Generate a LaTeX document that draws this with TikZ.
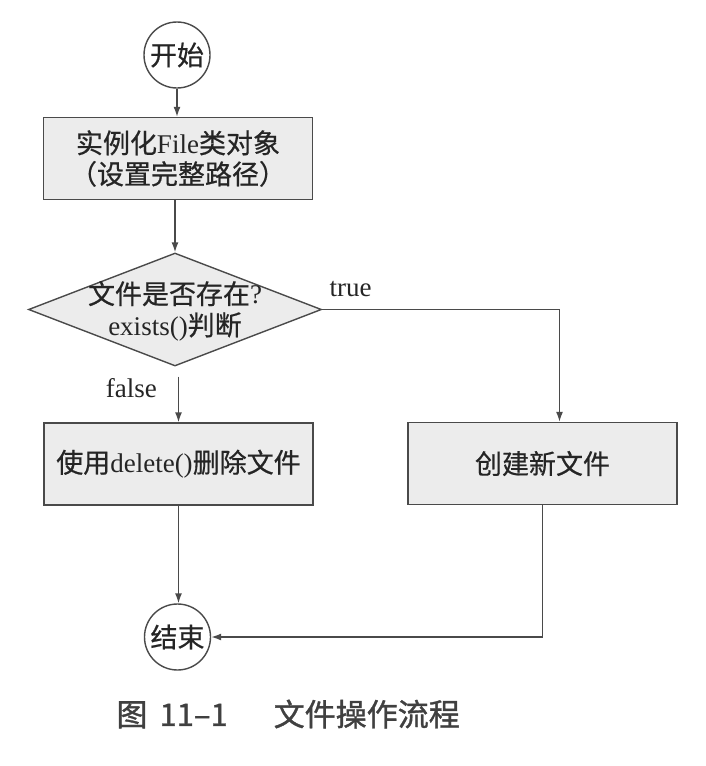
\documentclass[tikz,border=0pt]{standalone}
\usepackage{fontspec}
\setmainfont{Liberation Serif}
\newfontfamily\cjk[FakeBold=0.6]{Noto Sans CJK SC}
\newfontfamily\capfont[FakeBold=1.2]{Noto Sans CJK SC}
\usetikzlibrary{shapes.geometric,arrows.meta}
\definecolor{linec}{HTML}{4A4A4A}
\definecolor{boxfill}{HTML}{ECECEC}
\definecolor{txt}{HTML}{252525}
\definecolor{capc}{HTML}{404040}
\begin{document}
\begin{tikzpicture}[x=1pt,y=-1pt,
  every node/.style={text=txt, font=\fontsize{27}{31}\selectfont},
  term/.style={circle, draw=linec, line width=1.4pt, minimum size=66pt, inner sep=0pt, fill=white},
  procbox/.style={rectangle, draw=linec, line width=1.4pt, fill=boxfill, minimum width=269pt, minimum height=82pt, inner sep=0pt, align=center},
  decision/.style={diamond, draw=linec, line width=1.4pt, fill=boxfill, minimum width=293pt, minimum height=113pt, inner sep=0pt, font=\fontsize{27}{28}\selectfont},
  flow/.style={draw=linec, line width=1.4pt, -{Latex[length=10pt,width=7pt]}},
  branch/.style={inner sep=0pt, font=\fontsize{27}{31}\selectfont}
]
\useasboundingbox (0,0) rectangle (705,766);

\node[term] (start) at (177,55) {\cjk 开始};
\node[procbox] (box1) at (178,158.5) {{\cjk 实例化}File{\cjk 类对象}\\{\cjk （设置完整路径）}};
\node[decision] (dec) at (175,309.5) {\smash{\raisebox{-9pt}{\makebox[0pt]{\begin{tabular}{@{}c@{}}{\cjk 文件是否存在}?\\exists(){\cjk 判断}\end{tabular}}}}};
\node[procbox] (box2) at (178.5,464) {{\cjk 使用}delete(){\cjk 删除文件}};
\node[procbox] (box3) at (542.5,463.5) {\cjk 创建新文件};
\node[term] (end) at (177.5,637) {\cjk 结束};

\node[anchor=west, text=capc, font=\capfont\fontsize{31}{31}\selectfont] (cap) at (113,714) {图\hspace{12pt}11–1\hspace{46pt}文件操作流程};

\draw[flow] (start.south) -- (start.south |- box1.north);
\draw[flow] (box1.south -| dec.north) -- (dec.north);
\draw[flow] (dec.east) -| node[branch, above, pos=0.06, yshift=12pt] {true} ([xshift=17pt]box3.north);
\draw[flow, shorten <=10pt] (dec.south -| box2.north) -- node[branch, left, pos=0.386, xshift=-21pt] {false} (box2.north);
\draw[flow] (box2.south) -- (box2.south |- end.north);
\draw[flow] (box3.south) |- (end.east);
\end{tikzpicture}
\end{document}
